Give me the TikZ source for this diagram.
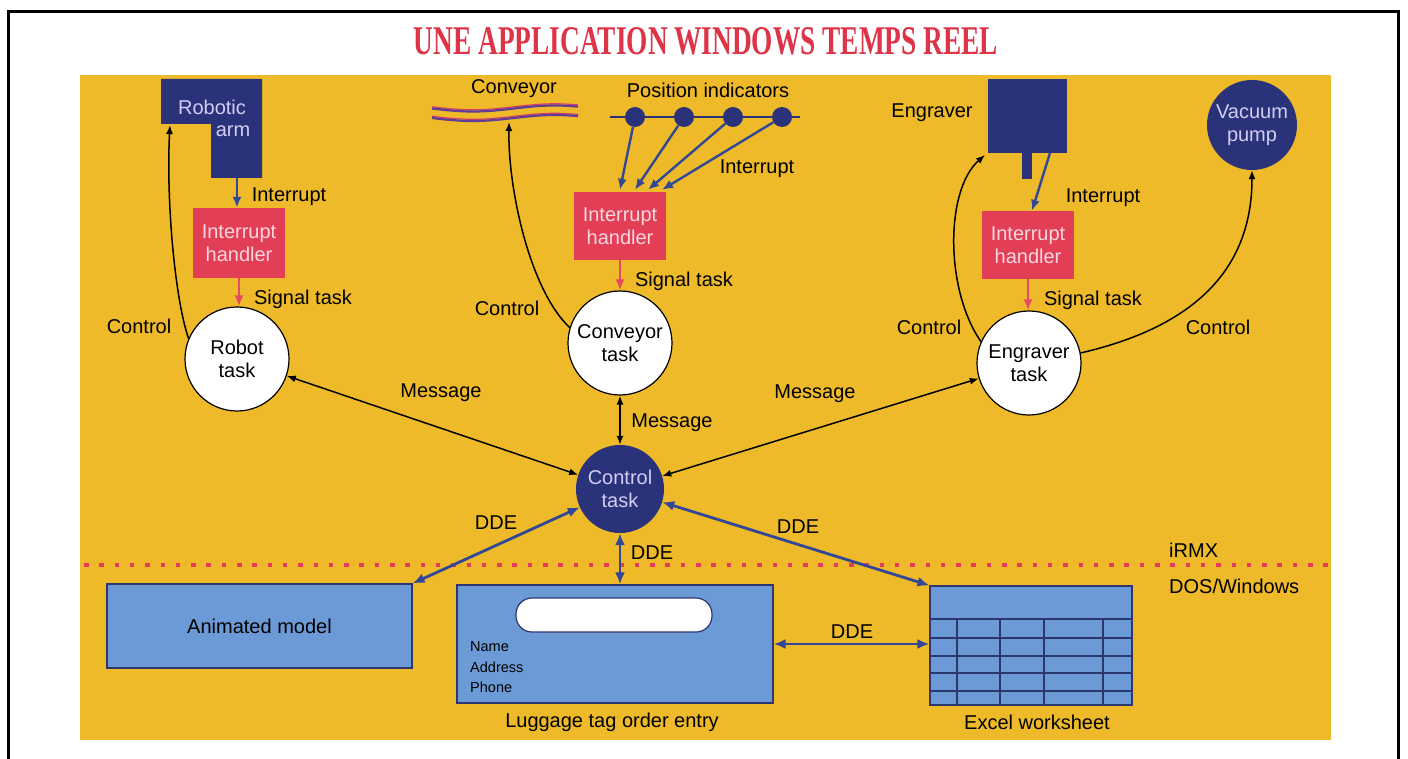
\documentclass[tikz,border=0pt]{standalone}
\usepackage{fontspec}
\usepackage{graphicx}
\setmainfont{Liberation Sans}
\newfontfamily\titlefont{Liberation Serif}
\usetikzlibrary{arrows.meta}
\definecolor{bgy}{RGB}{238,186,42}
\definecolor{navy}{RGB}{42,50,122}
\definecolor{ihred}{RGB}{226,62,86}
\definecolor{ihtext}{RGB}{250,214,222}
\definecolor{navytext}{RGB}{210,205,242}
\definecolor{intblue}{RGB}{50,72,150}
\definecolor{sigred}{RGB}{232,72,96}
\definecolor{appblue}{RGB}{108,154,214}
\definecolor{boxline}{RGB}{45,55,110}
\definecolor{titlered}{RGB}{222,52,72}
\definecolor{dotred}{RGB}{230,60,90}
\definecolor{convred}{RGB}{215,60,100}
\definecolor{convblue}{RGB}{95,60,150}
\begin{document}
\begin{tikzpicture}[x=1pt,y=-1pt,
  txt/.style={font=\fontsize{20}{23}\selectfont, inner sep=0pt},
  small/.style={font=\fontsize{14.5}{20}\selectfont, inner sep=0pt},
  ihbox/.style={txt, fill=ihred, text=ihtext, minimum width=92pt, minimum height=70pt, align=center},
  task/.style={txt, circle, draw=black, line width=1.2pt, fill=white, minimum size=104pt, align=center},
  navycirc/.style={txt, circle, fill=navy, text=navytext, align=center},
  ctl/.style={draw=black, line width=1.5pt, -{Latex[length=9pt,width=7pt]}},
  msg/.style={draw=black, line width=1.5pt, {Latex[length=9pt,width=7pt]}-{Latex[length=9pt,width=7pt]}},
  intr/.style={draw=intblue, line width=2.4pt, -{Latex[length=11pt,width=9pt]}},
  sig/.style={draw=sigred, line width=2.2pt, -{Latex[length=11pt,width=9pt]}},
  dde/.style={draw=intblue, line width=2.8pt, {Latex[length=12pt,width=10pt]}-{Latex[length=12pt,width=10pt]}},
  appbox/.style={fill=appblue, draw=boxline, line width=1.2pt, inner sep=0pt},
  dot/.style={circle, fill=navy, minimum size=20pt, inner sep=0pt},
  wave/.style={domain=432:578, samples=60, smooth, variable=\t}
]
\useasboundingbox (0,0) rectangle (1408,759);
\fill[white] (0,0) rectangle (1408,759);
\draw[line width=3pt] (8,760) -- (8,12) -- (1398,12) -- (1398,760);
\fill[bgy] (80,75) rectangle (1331,740);

% title
\node[inner sep=0pt, text=titlered] (title) at (706,41.5)
  {\resizebox{584pt}{27pt}{\titlefont\bfseries UNE APPLICATION WINDOWS TEMPS REEL}};

% ---------- Robot ----------
\fill[navy] (161,79) -- (262,79) -- (262,178) -- (211,178) -- (211,124) -- (161,124) -- cycle;
\node[txt, text=navytext] (armA) at (212,107) {Robotic};
\node[txt, text=navytext] (armB) at (233,131) {arm};
\coordinate (armbot) at (237,178);
\coordinate (armctl) at (170,125);
\node[ihbox] (ih1) at (239,243) {Interrupt\\handler};
\node[task] (rt) at (237,359) {Robot\\task};
\draw[intr] (armbot) -- (armbot |- ih1.north);
\draw[sig] (ih1.south) -- (ih1.south |- rt.north);
\draw[ctl] (rt.157) .. controls (175,300) and (166,200) .. (armctl);
\node[txt] (l1) at (289,197) {Interrupt};
\node[txt] (l2) at (303,299) {Signal task};
\node[txt] (l3) at (139,326) {Control};

% ---------- Conveyor ----------
\draw[wave, convred, line width=1.2pt] plot (\t, {106.8 + 3*sin((\t-432)*2.2)});
\draw[wave, convblue, line width=2.2pt] plot (\t, {108.5 + 3*sin((\t-432)*2.2)});
\draw[wave, convred, line width=1.2pt] plot (\t, {116.3 + 3*sin((\t-432)*2.2)});
\draw[wave, convblue, line width=2.2pt] plot (\t, {118 + 3*sin((\t-432)*2.2)});
\node[txt] (convlbl) at (514,89) {Conveyor};
\coordinate (convctl) at (509,122);
\node[txt] (poslbl) at (708,90) {Position indicators};
\draw[navy, line width=1.2pt] (610,117) -- (800,117);
\node[dot] (p1) at (635,117) {};
\node[dot] (p2) at (684,117) {};
\node[dot] (p3) at (733,117) {};
\node[dot] (p4) at (782,117) {};
\node[ihbox, minimum height=68pt] (ih2) at (620,226) {Interrupt\\handler};
\node[task] (cvt) at (620,343) {Conveyor\\task};
\draw[intr] (p1) -- ([yshift=2pt]ih2.north);
\draw[intr] (p2) -- ([xshift=15pt,yshift=2pt]ih2.north);
\draw[intr] (p3) -- ([xshift=28pt,yshift=2pt]ih2.north);
\draw[intr] (p4) -- ([xshift=42pt,yshift=2pt]ih2.north);
\draw[sig] (ih2.south) -- (cvt.north);
\draw[ctl] (cvt.163) .. controls (530,290) and (508,190) .. (convctl);
\node[txt] (l4) at (757,169) {Interrupt};
\node[txt] (l5) at (684,281) {Signal task};
\node[txt] (l6) at (507,308) {Control};

% ---------- Engraver ----------
\fill[navy] (988,79) rectangle (1067,153);
\fill[navy] (1022,153) rectangle (1032,179);
\node[txt] (englbl) at (932,113) {Engraver};
\coordinate (engb) at (1050,153);
\coordinate (engctl) at (985,155);
\node[ihbox, minimum height=68pt] (ih3) at (1028,245) {Interrupt\\handler};
\node[task] (et) at (1029,363) {Engraver\\task};
\node[navycirc, minimum size=90pt] (vp) at (1252,125) {Vacuum\\pump};
\draw[intr] (engb) -- ([xshift=4pt]ih3.north);
\draw[sig] (ih3.south) -- (ih3.south |- et.north);
\draw[ctl] (et.156) .. controls (945,290) and (945,190) .. (engctl);
\draw[ctl] (et.11) .. controls (1180,330) and (1252,280) .. (vp.south);
\node[txt] (l7) at (1103,198) {Interrupt};
\node[txt] (l8) at (1093,300) {Signal task};
\node[txt] (l9) at (929,327) {Control};
\node[txt] (l10) at (1218,327) {Control};

% ---------- Control task ----------
\node[navycirc, minimum size=88pt] (ct) at (620,489) {Control\\task};
\draw[msg] (rt) -- (ct);
\draw[msg] (cvt) -- (ct);
\draw[msg] (et) -- (ct);
\node[txt] (m1) at (441,393) {Message};
\node[txt] (m2) at (672,423) {Message};
\node[txt] (m3) at (815,394) {Message};

% ---------- separator ----------
\draw[dotred, line width=4.5pt, dash pattern=on 4.5pt off 10.8pt] (84,565) -- (1331,565);
\node[txt, anchor=west] (irmx) at (1169,550) {iRMX};
\node[txt, anchor=west] (dos) at (1169,586) {DOS/Windows};

% ---------- applications ----------
\node[appbox, txt, minimum width=305pt, minimum height=84pt] (am) at (259.5,626) {Animated model};
\node[appbox, minimum width=316pt, minimum height=118pt] (lug) at (615,644) {};
\node[fill=white, draw=boxline, line width=1.2pt, rounded corners=16pt, minimum width=196pt, minimum height=34pt, inner sep=0pt] (field) at (614,615) {};
\node[small, anchor=west] (nm) at (470,647) {Name};
\node[small, anchor=west] (ad) at (470,667) {Address};
\node[small, anchor=west] (ph) at (470,687) {Phone};
\node[txt] (luglbl) at (612,722) {Luggage tag order entry};
\node[appbox, minimum width=202pt, minimum height=119pt] (xl) at (1031,645.5) {};
\foreach \yy in {619,638,656,673,691} \draw[boxline, line width=1.5pt] (930,\yy) -- (1132,\yy);
\foreach \xx in {957,1000,1044,1103} \draw[boxline, line width=1.2pt] (\xx,619) -- (\xx,705);
\node[txt] (xllbl) at (1037,722) {Excel worksheet};

\draw[dde] (ct) -- (am.north east);
\draw[dde] (ct) -- (ct |- lug.north);
\draw[dde] (ct) -- (xl.north west);
\draw[dde] (lug.east) -- (lug.east -| xl.west);
\node[txt] (d1) at (496,523) {DDE};
\node[txt] (d2) at (652,553) {DDE};
\node[txt] (d3) at (798,527) {DDE};
\node[txt] (d4) at (852,632) {DDE};
\end{tikzpicture}
\end{document}
